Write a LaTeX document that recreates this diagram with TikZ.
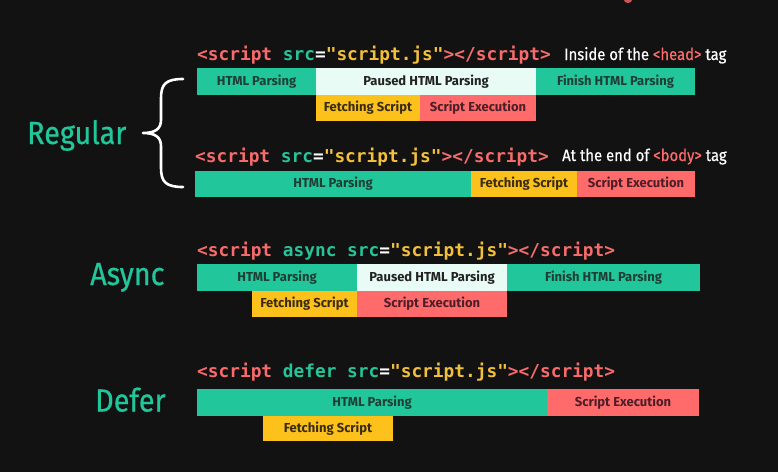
\documentclass[tikz,border=0pt]{standalone}
\usepackage{fontspec}
\setmainfont{Fira Sans}
\newfontfamily\codefont{DejaVu Sans Mono}
\newfontfamily\labfont[FakeStretch=0.9,FakeBold=0.6]{Fira Sans}
\definecolor{bg}{HTML}{121212}
\definecolor{cgreen}{HTML}{22C69B}
\definecolor{cmint}{HTML}{E8FBF4}
\definecolor{cyel}{HTML}{FCC21B}
\definecolor{cred}{HTML}{FF6B6B}
\definecolor{tcred}{HTML}{F76B6B}
\definecolor{tcgreen}{HTML}{27C49A}
\definecolor{tcyel}{HTML}{F3C03B}
\definecolor{onG}{HTML}{1D3F36}
\definecolor{onW}{HTML}{222222}
\definecolor{onY}{HTML}{3A2C14}
\definecolor{onR}{HTML}{4E1E28}
\tikzset{
  seg/.style={anchor=north west, inner sep=0pt, outer sep=0pt,
    font=\fontsize{13}{15}\selectfont\bfseries},
  gseg/.style={seg, fill=cgreen, text=onG},
  wseg/.style={seg, fill=cmint, text=onW},
  yseg/.style={seg, fill=cyel, text=onY},
  rseg/.style={seg, fill=cred, text=onR},
  code/.style={anchor=base west, inner sep=0pt, font=\codefont\fontsize{17.8}{20}\selectfont\bfseries},
  note/.style={anchor=base west, inner sep=0pt, text=white, font=\labfont\fontsize{16.5}{19}\selectfont},
  big/.style={anchor=base west, inner sep=0pt, text=cgreen, font=\labfont\fontsize{32}{36}\selectfont}
}
\newcommand\seg[7]{\node[#6, minimum width={(#4)-(#2)}, minimum height={(#5)-(#3)}] (#1) at (#2,#3) {#7};}
\newcommand\codeline[1]{{\color{tcred}<script}\ {\color{tcgreen}#1}{\color{white}=}{\color{tcyel}"script.js"}{\color{tcred}></script>}}
\begin{document}
\begin{tikzpicture}[x=1pt,y=-1pt]
\fill[bg] (0,0) rectangle (778,472);
\useasboundingbox (0,0) rectangle (778,472);
\fill[cred!80!black] (628,0) ellipse (4 and 3);
% Regular / head
\node[code] (c1) at (197,60) {\codeline{src}};
\node[note] (n1) at (564,60) {Inside of the {\color{cred}<head>} tag};
\seg{r1a}{197}{68}{316}{95}{gseg}{HTML Parsing}
\seg{r1b}{316}{68}{536}{95}{wseg}{Paused HTML Parsing}
\seg{r1c}{536}{68}{695}{95}{gseg}{Finish HTML Parsing}
\seg{r1d}{316}{95}{420}{121}{yseg}{Fetching Script}
\seg{r1e}{420}{95}{536}{121}{rseg}{Script Execution}
% Regular / body
\node[code] (c2) at (195,162) {\codeline{src}};
\node[note] (n2) at (562,161) {At the end of {\color{cred}<body>} tag};
\seg{r2a}{195}{171}{471}{197}{gseg}{HTML Parsing}
\seg{r2b}{471}{171}{577}{197}{yseg}{Fetching Script}
\seg{r2c}{577}{171}{695}{197}{rseg}{Script Execution}
% Async
\node[code] (c3) at (197,256) {\codeline{async src}};
\seg{r3a}{197}{264}{357}{291}{gseg}{HTML Parsing}
\seg{r3b}{357}{264}{507}{291}{wseg}{Paused HTML Parsing}
\seg{r3c}{507}{264}{700}{291}{gseg}{Finish HTML Parsing}
\seg{r3d}{252}{291}{357}{317}{yseg}{Fetching Script}
\seg{r3e}{357}{291}{507}{317}{rseg}{Script Execution}
% Defer
\node[code] (c4) at (197,377) {\codeline{defer src}};
\seg{r4a}{197}{389}{547}{416}{gseg}{HTML Parsing}
\seg{r4b}{547}{389}{699}{416}{rseg}{Script Execution}
\seg{r4c}{263}{416}{393}{441}{yseg}{Fetching Script}
% big labels
\node[big] (lreg) at (27,144) {Regular};
\node[big] (lasy) at (90,285) {Async};
\node[big] (ldef) at (95,411.5) {Defer};
% brace
\draw[white, line width=2.6pt, line cap=round, line join=round]
  (183,79) .. controls (166,79) and (161,84) .. (161,98) -- (161,120)
  .. controls (161,129) and (155,133) .. (143,133)
  .. controls (155,133) and (161,137) .. (161,146) -- (161,168)
  .. controls (161,182) and (166,187) .. (183,187);
\end{tikzpicture}
\end{document}
